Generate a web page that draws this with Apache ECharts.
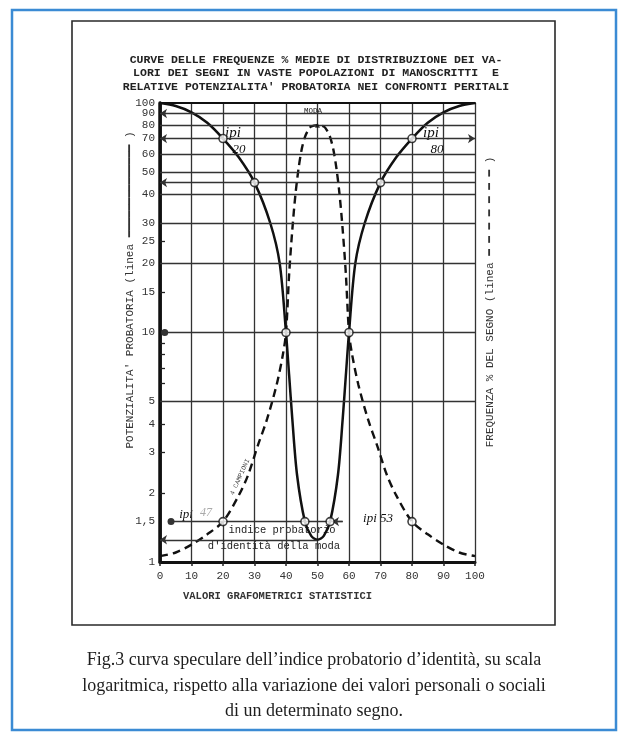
<!DOCTYPE html>
<html lang="it">
<head>
<meta charset="UTF-8">
<title>Curve delle frequenze % medie</title>
<script src="https://cdn.jsdelivr.net/npm/echarts@6.0.0/dist/echarts.min.js"></script>
<style>
  html, body { margin: 0; padding: 0; background: #fff; }
  #main { width: 628px; height: 738px; }
</style>
</head>
<body>
<div id="main"></div>
<script>
// curva continua: potenzialita' probatoria
const solidX = [0, 5, 10, 15, 20, 25, 30, 35, 38, 40, 41, 42, 43.5, 46, 48, 50, 52, 54, 56.5, 58, 59, 60, 62, 65, 70, 75, 80, 85, 90, 95, 100];
const solidY = [100, 97, 91, 82, 70, 58, 45, 30, 20, 10, 6.5, 4.2, 2.4, 1.5, 1.3, 1.25, 1.3, 1.5, 2.4, 4.2, 6.5, 10, 20, 30, 45, 58, 70, 82, 91, 97, 100];

// curva tratteggiata: frequenza % del segno
const dashX = [0, 5, 10, 15, 20, 25, 28, 31, 34, 37, 39, 40, 41, 42, 43, 44, 45, 46, 47, 48, 50, 52, 53, 54, 55, 56, 57, 58, 59, 60, 61, 63, 66, 69, 72, 75, 80, 85, 90, 95, 100];
const dashY = [1.06, 1.1, 1.19, 1.32, 1.5, 1.95, 2.4, 3.2, 4.2, 5.9, 8, 10, 18, 28, 40, 52, 63, 71, 76, 79, 80, 79, 76, 71, 63, 52, 40, 28, 18, 10, 8, 5.9, 4.2, 3.2, 2.4, 1.95, 1.5, 1.32, 1.19, 1.1, 1.06];

// punti cerchiati (ipi)
const circleX = [20, 30, 40, 60, 70, 80, 46, 54, 20, 80];
const circleY = [70, 45, 10, 10, 45, 70, 1.5, 1.5, 1.5, 1.5];

// scala (ordine scelto in modo che le etichette estreme non si sovrappongano)
const yTickLabels = [1, 100, 1.5, 2, 3, 4, 10, 15, 20, 25, 30, 40, 50, 60, 70, 80, 90, 5];
const yMinorTicks = [2, 3, 4, 6, 7, 8, 9, 15, 25];
const gridValues = [5, 20, 30, 40, 50, 60, 80];
const modaValue = 80;
const ipiMin = 1.25;

const mono = "'Liberation Mono', 'DejaVu Sans Mono', monospace";
const serif = "'Liberation Serif', serif";
const ink = '#222';

function pairs(xs, ys) {
  return xs.map(function (x, i) { return [x, ys[i]]; });
}

function hline(v, x0, x1, s0, s1) {
  return [{ coord: [x0, v], symbol: s0 }, { coord: [x1, v], symbol: s1 }];
}

function txt(x, y, text, font, size, extra) {
  var style = { text: text, textAlign: 'center', textVerticalAlign: 'middle', fontFamily: font, fontSize: size, fill: '#222' };
  Object.assign(style, extra || {});
  return { type: 'text', x: x, y: y, style: style };
}

var chart = echarts.init(document.getElementById('main'));

var lineStyleGrid = { color: '#333', width: 1.3, type: 'solid' };

var option = {
  backgroundColor: '#fff',
  animation: false,
  grid: { left: 160, right: 153, top: 103, bottom: 176, outerBoundsMode: 'none' },
  xAxis: [{
    type: 'value', min: 0, max: 100, interval: 10,
    axisLine: { lineStyle: { color: '#111', width: 3 } },
    axisTick: { show: true, length: 4, lineStyle: { color: ink, width: 1.5 } },
    axisLabel: { color: '#333', fontFamily: mono, fontSize: 11, margin: 9 },
    splitLine: { show: true, lineStyle: { color: '#333', width: 1.3 } }
  }, {
    type: 'value', min: 0, max: 100, position: 'top',
    axisLine: { show: true, lineStyle: { color: '#111', width: 2 } },
    axisTick: { show: false }, axisLabel: { show: false }, splitLine: { show: false }
  }],
  yAxis: [{
    type: 'log', logBase: 10, min: 1, max: 100,
    axisLine: { show: true, lineStyle: { color: '#111', width: 3.5 } },
    axisTick: { show: true, inside: true, length: 5, customValues: yMinorTicks, lineStyle: { color: ink, width: 1.3 } },
    axisLabel: {
      customValues: yTickLabels,
      hideOverlap: false,
      formatter: function (v) { return String(v).replace('.', ','); },
      color: '#333', fontFamily: mono, fontSize: 11, margin: 5
    },
    splitLine: { show: false }
  }, {
    type: 'log', logBase: 10, min: 1, max: 100, position: 'right',
    axisLine: { show: true, lineStyle: { color: '#111', width: 2.5 } },
    axisTick: { show: false }, axisLabel: { show: false }, splitLine: { show: false }
  }],
  series: [{
    name: 'Potenzialita probatoria',
    type: 'line',
    smooth: 0.3,
    symbol: 'none',
    data: pairs(solidX, solidY),
    lineStyle: { color: '#111', width: 2.5 },
    z: 4,
    markLine: {
      silent: true,
      animation: false,
      symbolSize: 7,
      label: { show: false },
      lineStyle: lineStyleGrid,
      data: gridValues.map(function (v) { return hline(v, 0, 100, 'none', 'none'); }).concat([
        hline(90, 0, 100, 'arrow', 'none'),
        hline(70, 0, 100, 'arrow', 'arrow'),
        hline(45, 0, 100, 'arrow', 'none'),
        hline(10, 1.5, 100, 'circle', 'none'),
        hline(1.5, 3.5, 58, 'circle', 'none'),
        hline(1.5, 58, 54.6, 'none', 'arrow'),
        hline(ipiMin, 0, 50, 'arrow', 'none')
      ])
    }
  }, {
    name: 'Frequenza % del segno',
    type: 'line',
    yAxisIndex: 1,
    smooth: 0.3,
    symbol: 'none',
    data: pairs(dashX, dashY),
    lineStyle: { color: '#111', width: 2.4, type: [8, 5] },
    z: 3
  }, {
    name: 'ipi',
    type: 'scatter',
    symbol: 'circle',
    symbolSize: 8,
    data: pairs(circleX, circleY),
    itemStyle: { color: '#fff', borderColor: '#111', borderWidth: 1.6 },
    z: 6
  }, {
    name: 'moda',
    type: 'scatter',
    yAxisIndex: 1,
    symbol: 'triangle',
    symbolSize: 5,
    data: [[50, modaValue]],
    itemStyle: { color: '#111' },
    z: 6
  }],
  graphic: [
    { type: 'rect', shape: { x: 12, y: 10, width: 604, height: 720 }, style: { fill: 'none', stroke: '#3b8bd4', lineWidth: 2.5 }, z: 0 },
    { type: 'rect', shape: { x: 72, y: 21, width: 483, height: 604 }, style: { fill: 'none', stroke: '#2a2a2a', lineWidth: 1.6 }, z: 0 },

    txt(316, 60, 'CURVE DELLE FREQUENZE % MEDIE DI DISTRIBUZIONE DEI VA-', mono, 11.5, { fontWeight: 'bold' }),
    txt(316, 73, 'LORI DEI SEGNI IN VASTE POPOLAZIONI DI MANOSCRITTI  E', mono, 11.5, { fontWeight: 'bold' }),
    txt(316, 87, "RELATIVE POTENZIALITA' PROBATORIA NEI CONFRONTI PERITALI", mono, 11.5, { fontWeight: 'bold' }),

    Object.assign(txt(130, 290, "POTENZIALITA' PROBATORIA (linea ━━━━━━━━━━━━━━ )", mono, 11, { fill: '#333' }), { rotation: Math.PI / 2 }),
    Object.assign(txt(490, 302, 'FREQUENZA % DEL SEGNO (linea ━ ━ ━ ━ ━ ━ ━ )', mono, 11, { fill: '#333' }), { rotation: Math.PI / 2 }),

    txt(183, 596, 'VALORI GRAFOMETRICI STATISTICI', mono, 10.5, { textAlign: 'left', fontWeight: 'bold', fill: '#333' }),

    txt(233, 133, 'ipi', serif, 15, { fontStyle: 'italic', fill: '#111' }),
    txt(239, 150, '20', serif, 13, { fontStyle: 'italic', fill: '#111' }),
    txt(431, 133, 'ipi', serif, 15, { fontStyle: 'italic', fill: '#111' }),
    txt(437, 150, '80', serif, 13, { fontStyle: 'italic', fill: '#111' }),
    txt(313, 111, 'MODA', mono, 7.5),

    txt(186, 515, 'ipi', serif, 13, { fontStyle: 'italic', fill: '#111' }),
    txt(206, 513, '47', serif, 12, { fontStyle: 'italic', fill: '#aaa' }),
    txt(378, 519, 'ipi 53', serif, 13, { fontStyle: 'italic', fill: '#111' }),
    txt(282, 530, 'indice probatorio', mono, 10.5),
    txt(274, 546, "d'identità della moda", mono, 10.5),
    Object.assign(txt(240, 477, '4 CAMPIONI', mono, 6.5, { fill: '#444' }), { rotation: 1.15 }),

    txt(314, 660, 'Fig.3 curva speculare dell’indice probatorio d’identità, su scala', serif, 18, { fill: '#1e1e1e' }),
    txt(314, 686, 'logaritmica, rispetto alla variazione dei valori personali o sociali', serif, 18, { fill: '#1e1e1e' }),
    txt(314, 711, 'di un determinato segno.', serif, 18, { fill: '#1e1e1e' })
  ]
};

chart.setOption(option);
</script>
</body>
</html>
